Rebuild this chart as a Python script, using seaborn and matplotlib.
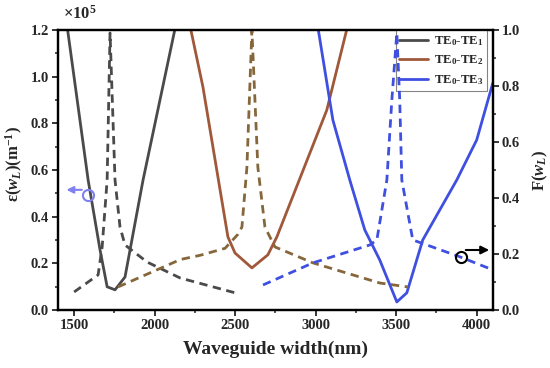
import numpy as np
import pandas as pd
import seaborn as sns
import matplotlib.pyplot as plt

# epsilon(w_L) curves (solid, left axis, x1e5 m^-1)
eps1_x = [1440, 1587, 1661, 1705, 1754, 1816, 1928, 2140]
eps1_y = [1.30, 0.557, 0.257, 0.099, 0.086, 0.141, 0.557, 1.25]
eps2_x = [2210, 2300, 2455, 2499, 2604, 2703, 2759, 3069, 3210]
eps2_y = [1.25, 0.956, 0.313, 0.244, 0.180, 0.236, 0.313, 0.857, 1.25]
eps3_x = [3005, 3107, 3212, 3305, 3398, 3504, 3566, 3665, 3876, 4000, 4100]
eps3_y = [1.25, 0.814, 0.557, 0.343, 0.214, 0.034, 0.073, 0.300, 0.557, 0.729, 0.973]

# F(w_L) curves (dashed, right axis)
f1_x = [1500, 1649, 1674, 1705, 1723, 1754, 1785, 1816, 1953, 2158, 2499]
f1_y = [0.064, 0.125, 0.225, 0.464, 0.99, 0.464, 0.296, 0.232, 0.171, 0.114, 0.061]
f2_x = [1773, 2160, 2282, 2437, 2517, 2542, 2573, 2604, 2641, 2685, 2747, 2983, 3398, 3572]
f2_y = [0.082, 0.180, 0.195, 0.220, 0.270, 0.296, 0.51, 1.0, 0.51, 0.296, 0.225, 0.168, 0.096, 0.082]
f3_x = [2673, 2983, 3336, 3380, 3442, 3473, 3504, 3522, 3535, 3603, 3894, 4100]
f3_y = [0.089, 0.168, 0.232, 0.250, 0.464, 0.75, 0.99, 0.75, 0.464, 0.25, 0.19, 0.143]

labels = ['TE$_0$-TE$_1$', 'TE$_0$-TE$_2$', 'TE$_0$-TE$_3$']
colors = ['#4a4a4a', '#a0583a', '#3f4fe0']
dash_colors = ['#4a4a4a', '#86673c', '#3f4fe0']

sns.set_style("white")
plt.rcParams['font.family'] = ['Liberation Serif', 'DejaVu Serif']
plt.rcParams['font.weight'] = 'bold'
plt.rcParams['mathtext.fontset'] = 'custom'
plt.rcParams['mathtext.rm'] = 'Liberation Serif:bold'
plt.rcParams['mathtext.it'] = 'Liberation Serif:bold:italic'
plt.rcParams['mathtext.bf'] = 'Liberation Serif:bold'

fig = plt.figure(figsize=(5.5, 3.68), dpi=100)
ax = fig.add_axes([0.1055, 0.158, 0.7905, 0.76])
ax2 = ax.twinx()

eps_sets = [(eps1_x, eps1_y), (eps2_x, eps2_y), (eps3_x, eps3_y)]
f_sets = [(f1_x, f1_y), (f2_x, f2_y), (f3_x, f3_y)]

for (x, y), lab, c in zip(eps_sets, labels, colors):
    df = pd.DataFrame({'w': x, 'eps': y})
    sns.lineplot(data=df, x='w', y='eps', ax=ax, color=c, lw=2, label=lab, sort=False)

for (x, y), c in zip(f_sets, dash_colors):
    df = pd.DataFrame({'w': x, 'F': y})
    sns.lineplot(data=df, x='w', y='F', ax=ax2, color=c, lw=2, ls=(0, (3, 2.0)), sort=False)

ax.set_xlim(1400, 4100)
ax.set_ylim(0, 1.2)
ax2.set_ylim(0, 1.0)
ax.set_xticks([1500, 2000, 2500, 3000, 3500, 4000])
ax.set_xticks(np.arange(1750, 4100, 500), minor=True)
ax.set_yticks(np.arange(0, 1.21, 0.2))
ax.set_yticks(np.arange(0.1, 1.2, 0.2), minor=True)
ax2.set_yticks(np.arange(0, 1.01, 0.2))
ax2.set_yticks(np.arange(0.1, 1.0, 0.2), minor=True)
ax.yaxis.set_major_formatter(plt.FuncFormatter(lambda v, p: f'{v:.1f}'))
ax2.yaxis.set_major_formatter(plt.FuncFormatter(lambda v, p: f'{v:.1f}'))

for a in (ax, ax2):
    a.tick_params(axis='both', which='major', direction='out', length=4, width=1.3, labelsize=10.5, pad=2.5)
    a.tick_params(axis='both', which='minor', direction='out', length=2.5, width=1.1)
    for s in a.spines.values():
        s.set_linewidth(1.6)
        s.set_color('black')
ax.tick_params(axis='y', which='both', left=True)
ax.tick_params(axis='x', which='both', bottom=True)
ax2.tick_params(axis='y', which='both', right=True)

ax.set_xlabel('Waveguide width(nm)', fontsize=14, fontweight='bold', labelpad=6)
ax.set_ylabel(r'ε($w_L$)(m$^{\mathbf{-1}}$)', fontsize=12, fontweight='bold')
ax.yaxis.set_label_coords(-0.075, 0.52)
ax2.set_ylabel(r'F($w_L$)', fontsize=12, fontweight='bold', labelpad=8)
ax.text(0.012, 1.025, r'×10$^5$', transform=ax.transAxes, fontsize=12, fontweight='bold', ha='left', va='bottom')

# axis indicator annotations
ax.plot([1587], [0.493], marker='o', ms=8, mfc='none', mec='#8080f0', mew=1.5)
ax.annotate('', xy=(1435, 0.515), xytext=(1565, 0.515),
            arrowprops=dict(arrowstyle='-|>', color='#8080f0', lw=1.5, mutation_scale=10))
ax2.plot([3901], [0.19], marker='o', ms=8, mfc='none', mec='black', mew=1.5)
ax2.annotate('', xy=(4095, 0.214), xytext=(3915, 0.214),
             arrowprops=dict(arrowstyle='-|>', color='black', lw=1.5, mutation_scale=12))

leg = ax.legend(loc='upper right', bbox_to_anchor=(0.987, 1.0), fontsize=9.2, frameon=True,
                fancybox=False, edgecolor='#666666', borderpad=0.3, handlelength=2.2,
                labelspacing=0.45, handletextpad=0.5, borderaxespad=0)
leg.get_frame().set_linewidth(0.8)
if ax2.get_legend():
    ax2.get_legend().remove()

plt.savefig('out.png', dpi=100)
